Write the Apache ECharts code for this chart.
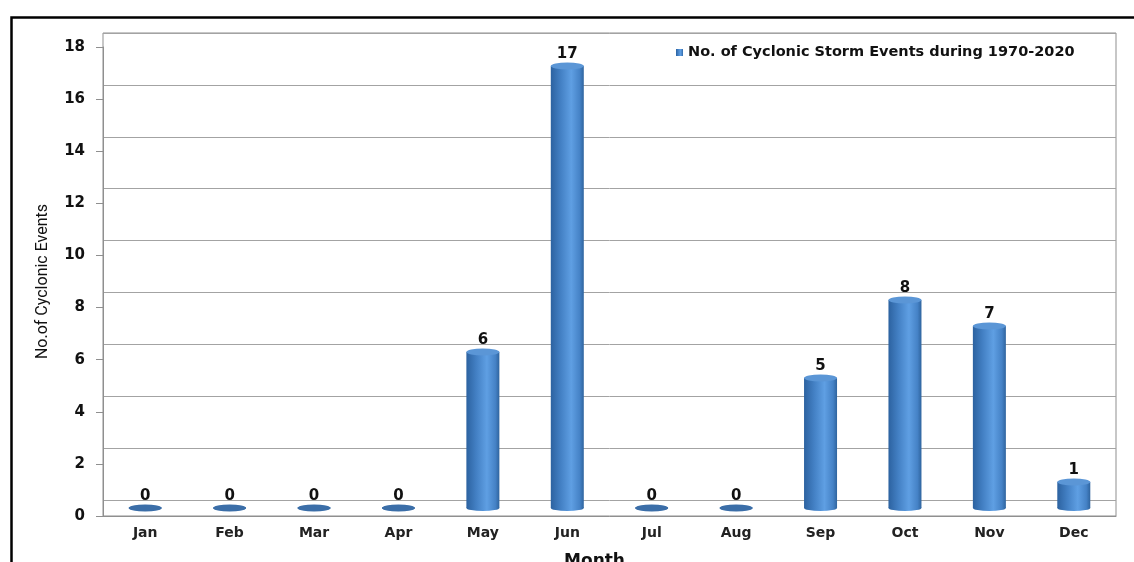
<!DOCTYPE html>
<html>
<head>
<meta charset="utf-8">
<script src="https://cdn.jsdelivr.net/npm/echarts@6/dist/echarts.min.js"></script>
<style>
  html, body { margin: 0; padding: 0; background: #fff; }
  #chart { width: 1134px; height: 562px; }
</style>
</head>
<body>
<div id="chart"></div>
<script>
// monthly cyclonic storm counts, 1970-2020
const months = ['Jan', 'Feb', 'Mar', 'Apr', 'May', 'Jun', 'Jul', 'Aug', 'Sep', 'Oct', 'Nov', 'Dec'];
const events = [0, 0, 0, 0, 6, 17, 0, 0, 5, 8, 7, 1];
const seriesName = 'No. of Cyclonic Storm Events during 1970-2020';
const yMax = 18;
const yStep = 2;

const chart = echarts.init(document.getElementById('chart'), null, { renderer: 'canvas' });

const boldFont = 'DejaVu Sans';
const gridGrey = '#a3a3a3';

// body of the cylinder, shaded left to right
const bodyColor = new echarts.graphic.LinearGradient(0, 0, 1, 0, [
    { offset: 0, color: '#2c62a0' },
    { offset: 0.3, color: '#4380c4' },
    { offset: 0.62, color: '#5f9fe3' },
    { offset: 0.88, color: '#4582c6' },
    { offset: 1, color: '#2f649e' }
]);

const hiddenCat = idx => ({
    type: 'category', gridIndex: idx, data: months, show: false
});
const hiddenVal = (idx) => ({
    type: 'value', gridIndex: idx, min: 0, max: yMax, interval: yStep, show: false
});

let option = {
    backgroundColor: '#fff',
    animation: false,
    graphic: [{
        // outer frame of the figure
        type: 'rect',
        left: 9, top: 15,
        shape: { width: 1200, height: 600 },
        style: { fill: 'none', stroke: '#000', lineWidth: 2.5 },
        silent: true
    }],
    legend: {
        show: true,
        data: [seriesName],
        left: 671,
        top: 40,
        icon: 'rect',
        itemWidth: 7,
        itemHeight: 7,
        itemGap: 8,
        textStyle: { fontFamily: boldFont, fontWeight: 'bold', fontSize: 14.5, color: '#111' }
    },
    grid: [
        // front plane: axis labels & ticks
        { left: 103, right: 18, top: 47, bottom: 46, outerBoundsMode: 'none' },
        // back wall: grid lines
        { left: 103, right: 18, top: 33, bottom: 62, outerBoundsMode: 'none' },
        // middle depth: cylinders
        { left: 103, right: 18, top: 40, bottom: 54, outerBoundsMode: 'none' },
        // wall box outline
        { left: 103, right: 18, top: 33, bottom: 46, outerBoundsMode: 'none', show: true, borderColor: '#8f8f8f', borderWidth: 1, backgroundColor: 'transparent' }
    ],
    xAxis: [{
        type: 'category',
        gridIndex: 0,
        data: months,
        name: 'Month',
        nameLocation: 'middle',
        nameGap: 37,
        nameTextStyle: { fontFamily: boldFont, fontWeight: 'bold', fontSize: 17, color: '#111', padding: [0, 30, 0, 0] },
        axisLine: { lineStyle: { color: '#8f8f8f', width: 1 } },
        axisTick: { alignWithLabel: false, length: 5, lineStyle: { color: '#8f8f8f' } },
        axisLabel: { margin: 10, fontFamily: boldFont, fontWeight: 'bold', fontSize: 14, color: '#222' }
    }, hiddenCat(1), hiddenCat(2), hiddenCat(3)],
    yAxis: [{
        type: 'value',
        gridIndex: 0,
        min: 0,
        max: yMax,
        interval: yStep,
        name: 'No.of Cyclonic Events',
        nameLocation: 'middle',
        nameGap: 52,
        nameTextStyle: { fontFamily: 'Roboto', fontSize: 16, color: '#111' },
        axisLine: { show: true, lineStyle: { color: '#8f8f8f', width: 1 } },
        axisTick: { show: true, length: 7, lineStyle: { color: '#8f8f8f' } },
        splitLine: { show: false },
        axisLabel: { margin: 18, fontFamily: boldFont, fontWeight: 'bold', fontSize: 15, color: '#111' }
    }, {
        type: 'value',
        gridIndex: 1,
        min: 0,
        max: yMax,
        interval: yStep,
        axisLine: { show: false },
        axisTick: { show: false },
        axisLabel: { show: false },
        splitLine: { show: true, lineStyle: { color: gridGrey, width: 1 } }
    }, hiddenVal(2), hiddenVal(3)],
    series: [{
        name: seriesName,
        type: 'bar',
        xAxisIndex: 2,
        yAxisIndex: 2,
        data: events,
        barWidth: 33,
        itemStyle: { color: bodyColor },
        label: {
            show: true,
            position: 'top',
            distance: 4,
            fontFamily: boldFont,
            fontWeight: 'bold',
            fontSize: 15,
            color: '#111'
        },
        z: 3
    }, {
        // rounded base
        type: 'pictorialBar',
        xAxisIndex: 2,
        yAxisIndex: 2,
        data: events,
        symbol: 'circle',
        symbolSize: [33, 6],
        symbolOffset: [0, '50%'],
        symbolPosition: 'start',
        itemStyle: { color: bodyColor },
        z: 2,
        tooltip: { show: false }
    }, {
        // top cap (flat disc when the count is zero)
        type: 'pictorialBar',
        xAxisIndex: 2,
        yAxisIndex: 2,
        data: events,
        symbol: 'circle',
        symbolSize: [33, 7],
        symbolOffset: [0, '-50%'],
        symbolPosition: 'end',
        itemStyle: {
            color: p => p.value > 0 ? '#5b96d6' : '#3b6ea8'
        },
        z: 4,
        tooltip: { show: false }
    }]
};

chart.setOption(option);
</script>
</body>
</html>
